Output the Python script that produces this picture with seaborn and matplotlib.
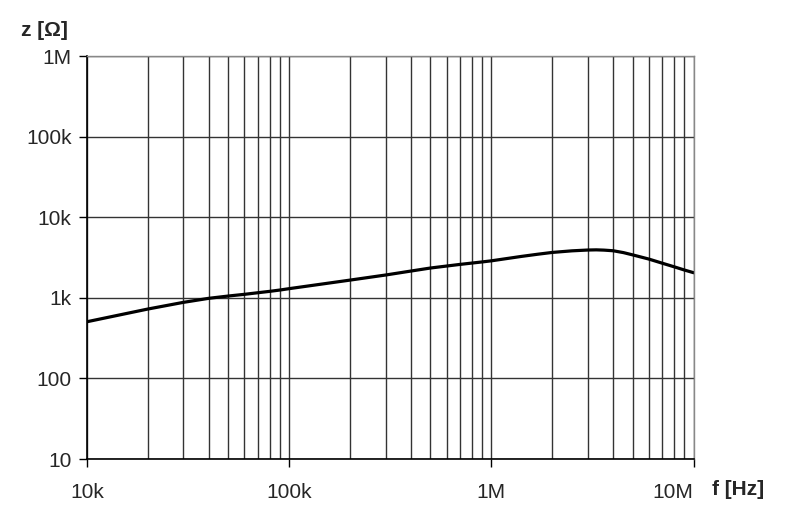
import matplotlib.pyplot as plt
import matplotlib.ticker as mticker
import numpy as np
import pandas as pd
import seaborn as sns

# values
freq_hz = [10e3, 20e3, 30e3, 40e3, 50e3, 60e3, 70e3, 80e3, 90e3, 100e3,
           200e3, 300e3, 400e3, 500e3, 700e3, 900e3, 1e6, 1.2e6, 1.4e6, 1.7e6, 2e6,
           2.5e6, 3e6, 3.3e6, 3.6e6, 4e6, 4.5e6, 5e6, 6e6, 7e6, 8e6, 9e6, 10e6]
impedance_ohm = [505, 726, 879, 986, 1053, 1105, 1157, 1203, 1250, 1300,
                 1660, 1920, 2150, 2345, 2600, 2790, 2880, 3080, 3260, 3480, 3660,
                 3830, 3920, 3940, 3910, 3840, 3640, 3410, 3030, 2690, 2430, 2215, 2050]

x_ticks = [1e4, 1e5, 1e6, 1e7]
x_labels = ["10k", "100k", "1M", "10M"]
y_ticks = [10, 100, 1e3, 1e4, 1e5, 1e6]
y_labels = ["10", "100", "1k", "10k", "100k", "1M"]

sns.set_style("white")
plt.rcParams["font.family"] = ["Liberation Sans", "DejaVu Sans"]

df = pd.DataFrame({"f": freq_hz, "z": impedance_ohm})

fig = plt.figure(figsize=(7.9, 5.24), dpi=100)
ax = fig.add_axes([0.110, 0.124, 0.768, 0.769])

sns.lineplot(data=df, x="f", y="z", ax=ax, color="black", linewidth=2.3)

ax.set_xscale("log")
ax.set_yscale("log")
ax.set_xlim(1e4, 1e7)
ax.set_ylim(10, 1e6)

ax.xaxis.set_major_locator(mticker.FixedLocator(x_ticks))
ax.xaxis.set_minor_locator(mticker.LogLocator(base=10, subs=np.arange(2, 10)))
ax.xaxis.set_minor_formatter(mticker.NullFormatter())
ax.set_xticklabels(x_labels)
ax.yaxis.set_major_locator(mticker.FixedLocator(y_ticks))
ax.yaxis.set_minor_locator(mticker.NullLocator())
ax.set_yticklabels(y_labels)

ax.grid(True, which="major", axis="both", color="#333333", linewidth=1.0)
ax.grid(True, which="minor", axis="x", color="#333333", linewidth=1.0)

ax.tick_params(axis="both", which="major", length=6, width=1, color="black",
               labelsize=15, direction="out", bottom=True, left=True)
ax.tick_params(axis="x", which="major", pad=11)
ax.tick_params(axis="y", which="major", pad=5)
ax.tick_params(axis="x", which="minor", length=0)

# the last x label sits left of its tick, as in the reference
ax.get_xticklabels()[-1].set_horizontalalignment("right")

for side in ["top", "right"]:
    ax.spines[side].set_color("#888888")
    ax.spines[side].set_linewidth(1.0)
for side in ["left", "bottom"]:
    ax.spines[side].set_color("black")
    ax.spines[side].set_linewidth(1.2)

ax.set_xlabel("")
ax.set_ylabel("")

fig.text(0.026, 0.941, "z [Ω]", fontsize=15, fontweight="bold", ha="left", va="center")
fig.text(0.901, 0.066, "f [Hz]", fontsize=15, fontweight="bold", ha="left", va="center")

fig.savefig("out.png", dpi=100)
